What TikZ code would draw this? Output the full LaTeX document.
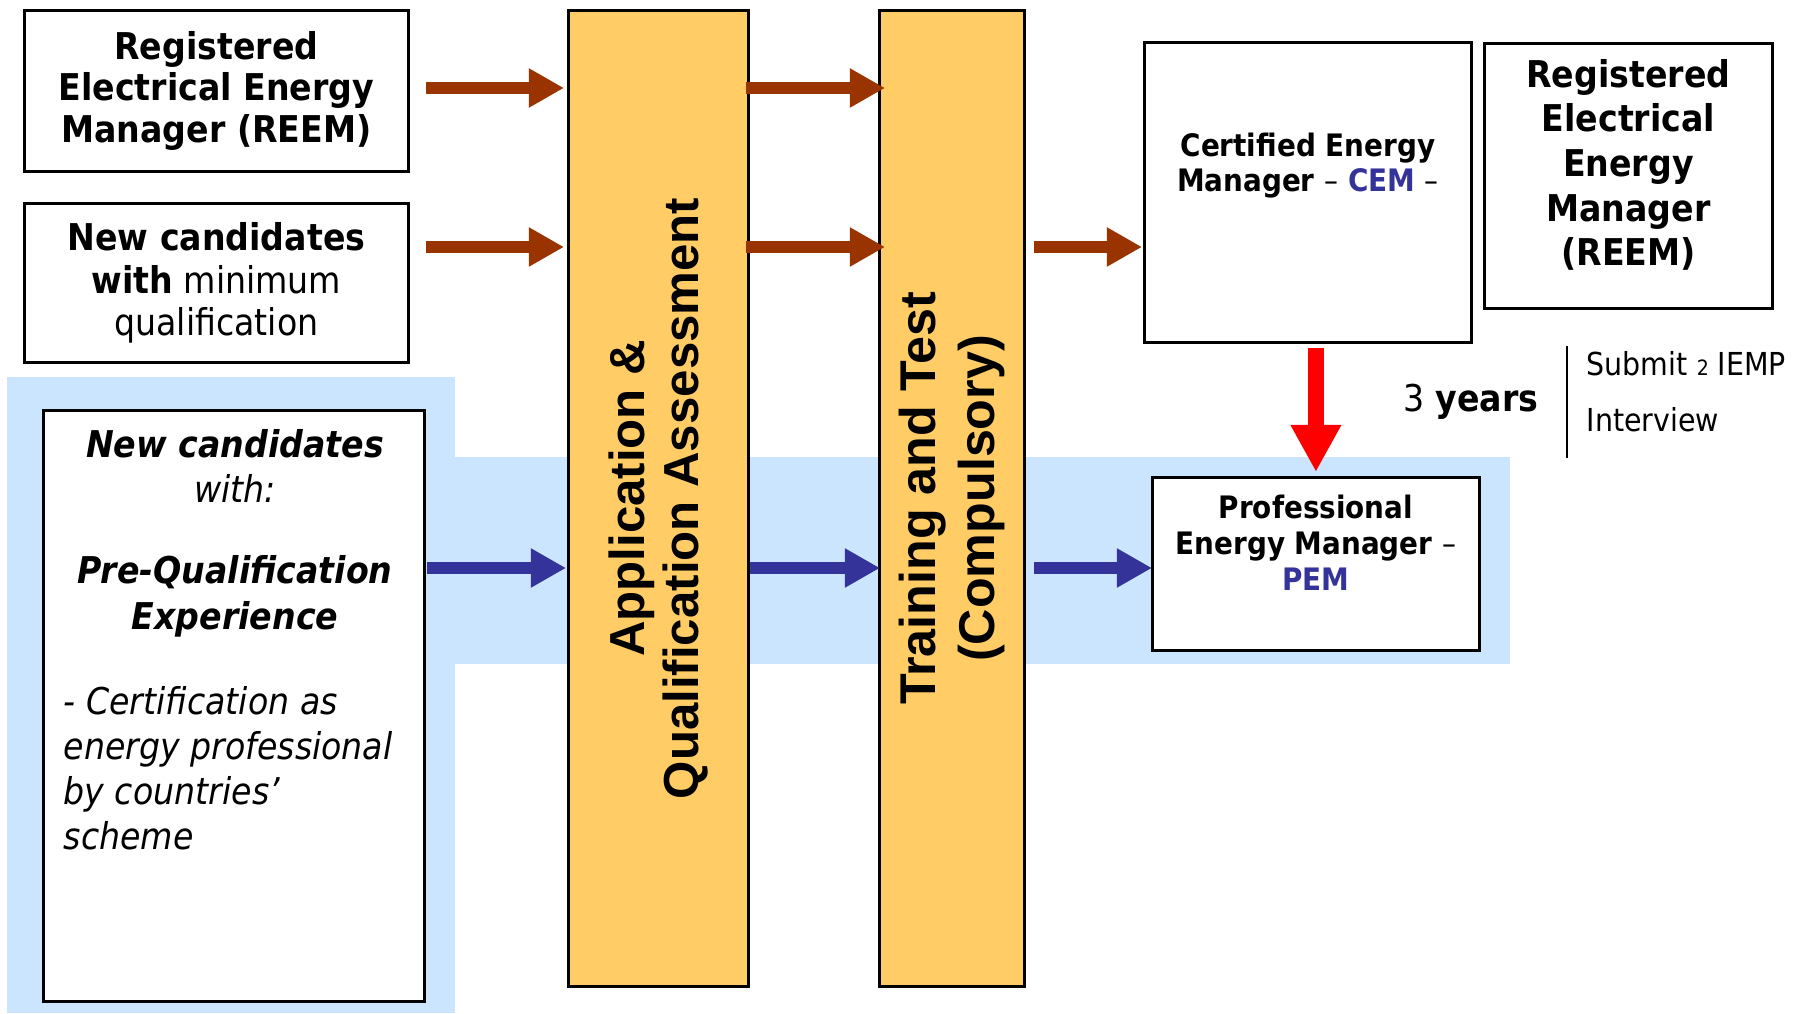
\documentclass[tikz,border=0pt]{standalone}
\usepackage{fontspec}
\setmainfont{DejaVu Sans}[FakeStretch=0.9]
\newfontfamily\arialfont{Liberation Sans}
\usepackage{tikz}
\usetikzlibrary{arrows.meta,calc,positioning}

\definecolor{arrbrown}{HTML}{993300}
\definecolor{arrblue}{HTML}{333399}
\definecolor{boxorange}{HTML}{FFCC66}
\definecolor{bgblue}{HTML}{CCE5FF}

\begin{document}
\begin{tikzpicture}[
  box/.style={draw, line width=0.8pt, fill=white, anchor=north west, inner sep=0pt, align=center},
  bar/.style={draw, line width=0.8pt, fill=boxorange, anchor=north west, inner sep=0pt},
  txt/.style={inner sep=0pt, align=center},
  brownarr/.style={-{Triangle[length=10pt,width=10.5pt]}, line width=3.5pt, arrbrown},
  bluearr/.style={-{Triangle[length=10pt,width=10.5pt]}, line width=3.5pt, arrblue},
  redarr/.style={-{Triangle[length=13.4pt,width=13.5pt]}, line width=4.5pt, red}
  ]

  \useasboundingbox (0,0) rectangle (17.96,-10.14);

  % Highlight behind the PEM route
  \fill[bgblue] (0.07,-3.77) rectangle (4.55,-10.13);
  \fill[bgblue] (4.55,-4.57) rectangle (15.10,-6.64);

  % Arrow rows
  \coordinate (rowA) at (0,-0.88);
  \coordinate (rowB) at (0,-2.47);
  \coordinate (rowC) at (0,-5.68);

  % Entry boxes
  \node[box, minimum width=3.84cm, minimum height=1.61cm,
        font=\fontsize{10.5}{11.7}\selectfont\bfseries]
    (reemL) at (0.23,-0.09) {Registered\\Electrical Energy\\Manager (REEM)};
  \node[box, minimum width=3.84cm, minimum height=1.59cm,
        font=\fontsize{10.5}{12}\selectfont]
    (newC) at (0.23,-2.02) {\textbf{New candidates}\\\textbf{with} minimum\\qualification};
  \node[box, minimum width=3.81cm, minimum height=5.91cm] (prequal) at (0.42,-4.09) {};
  \node[txt, font=\fontsize{10.5}{13}\selectfont\itshape]
    (prequalHead) at (2.35,-5.33)
    {\textbf{New candidates}\\with:\\[10pt]\textbf{Pre-Qualification}\\\textbf{Experience}};
  \node[txt, anchor=west, align=left, font=\fontsize{10.5}{12.8}\selectfont\itshape]
    (prequalNote) at (0.63,-7.68)
    {- Certification as\\energy professional\\by countries’\\scheme};

  % Process bars
  \node[bar, minimum width=1.80cm, minimum height=9.76cm] (app) at (5.67,-0.09) {};
  \node[bar, minimum width=1.45cm, minimum height=9.76cm] (train) at (8.78,-0.09) {};
  \node[txt, rotate=90, font=\arialfont\fontsize{14}{15.5}\selectfont\bfseries]
    (appText) at (app.center) {Application \&\\Qualification Assessment};
  \node[txt, rotate=90, font=\arialfont\fontsize{14.3}{17}\selectfont\bfseries]
    (trainText) at (train.center) {Training and Test\\(Compulsory)};

  % Outcome boxes
  \node[box, minimum width=3.27cm, minimum height=3.00cm] (cem) at (11.43,-0.41) {};
  \node[txt, font=\fontsize{8.8}{9.8}\selectfont\bfseries]
    (cemText) at ([yshift=0.27cm]cem.center)
    {Certified Energy\\Manager {\mdseries--} \textcolor{arrblue}{CEM} {\mdseries--}};
  \node[box, minimum width=2.88cm, minimum height=2.65cm] (reemR) at (14.83,-0.42) {};
  \node[txt, font=\fontsize{10.5}{12.7}\selectfont\bfseries]
    (reemRText) at ([yshift=0.11cm]reemR.center)
    {Registered\\Electrical\\Energy\\Manager\\(REEM)};
  \node[box, minimum width=3.27cm, minimum height=1.73cm] (pem) at (11.51,-4.76) {};
  \node[txt, font=\fontsize{8.8}{10.3}\selectfont\bfseries]
    (pemText) at ([yshift=0.21cm]pem.center)
    {Professional\\Energy Manager {\mdseries--}\\\textcolor{arrblue}{PEM}};

  % Upgrade note
  \node[txt, font=\fontsize{10.5}{12}\selectfont] (years) at (14.71,-4.02) {3 \textbf{years}};
  \coordinate (barTop) at (15.67,-3.46);
  \coordinate (barBot) at (15.67,-4.58);
  \draw[line width=0.7pt] (barTop) -- (barBot);
  \node[txt, anchor=west, font=\fontsize{9}{10}\selectfont]
    (submit) at (15.86,-3.64) {Submit {\fontsize{6}{6}\selectfont 2} IEMP};
  \node[txt, anchor=west, font=\fontsize{9}{10}\selectfont]
    (interview) at (15.86,-4.20) {Interview};

  % Brown arrows
  \draw[brownarr] ([xshift=1.6mm]reemL.east |- rowA) -- ([xshift=-0.3mm]app.west |- rowA);
  \draw[brownarr] ([xshift=-0.4mm]app.east |- rowA) -- ([xshift=0.7mm]train.west |- rowA);
  \draw[brownarr] ([xshift=1.6mm]newC.east |- rowB) -- ([xshift=-0.3mm]app.west |- rowB);
  \draw[brownarr] ([xshift=-0.4mm]app.east |- rowB) -- ([xshift=0.7mm]train.west |- rowB);
  \draw[brownarr] ([xshift=0.8mm]train.east |- rowB) -- ([xshift=-0.1mm]cem.west |- rowB);

  % Blue arrows
  \draw[bluearr] ([xshift=0.1mm]prequal.east |- rowC) -- ([xshift=-0.1mm]app.west |- rowC);
  \draw[bluearr] (app.east |- rowC) -- ([xshift=0.2mm]train.west |- rowC);
  \draw[bluearr] ([xshift=0.8mm]train.east |- rowC) -- ([xshift=0.1mm]pem.west |- rowC);

  % CEM to PEM
  \draw[redarr] ([yshift=-0.4mm]pem.north |- cem.south) -- ([yshift=0.4mm]pem.north);

\end{tikzpicture}
\end{document}
